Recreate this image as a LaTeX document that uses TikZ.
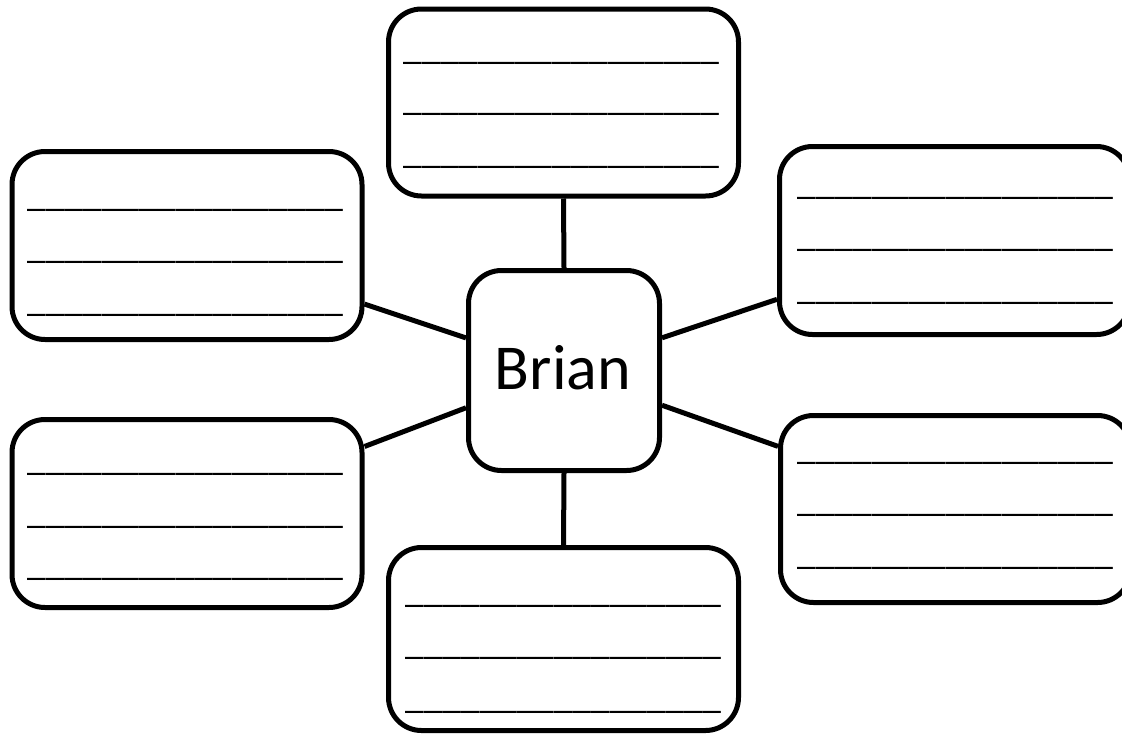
\documentclass[tikz,border=0pt]{standalone}
\usepackage{fontspec}
\setmainfont{Carlito}
\newcommand\blankline{\_\_\_\_\_\_\_\_\_\_\_\_\_\_\_\_\_}
\begin{document}
\begin{tikzpicture}[x=1pt,y=-1pt,
  box/.style={draw=black, line width=5pt, rounded corners=33pt, fill=white,
    inner sep=0pt, minimum width=350pt, minimum height=187pt},
  hub/.style={draw=black, line width=5pt, rounded corners=33pt, fill=white,
    inner sep=0pt, minimum width=191pt, minimum height=200pt,
    font=\fontsize{64}{70}\selectfont},
  link/.style={line width=5pt, draw=black},
  blank/.style={anchor=base west, inner sep=0pt, text height=0pt, text depth=0pt,
    font=\fontsize{37.3}{40}\selectfont}
]
\useasboundingbox (0,0) rectangle (1122,734);
\clip (0,0) rectangle (1122,734);
\fill[white] (0,0) rectangle (1122,734);

\coordinate (cc) at (564,370.5);
\coordinate (tc) at (563.5,102.5);
\coordinate (tlc) at (187,245.5);
\coordinate (trc) at (954.5,240.5);
\coordinate (blc) at (187,513.5);
\coordinate (brc) at (955.5,509);
\coordinate (bc) at (563.5,639);

\node[box] (T)  at (tc)  {};
\node[box, minimum height=188pt] (TL) at (tlc) {};
\node[box, minimum height=188pt] (TR) at (trc) {};
\node[box, minimum height=188pt] (BL) at (blc) {};
\node[box] (BR) at (brc) {};
\node[box, minimum height=183pt] (B)  at (bc)  {};
\node[hub] (C) at (cc) {};

\draw[link] (C) -- (TL);
\draw[link] (C) -- (BL);
\draw[link] (C) -- (TR);
\draw[link] (C) -- (BR);
\draw[link] (C.north) -- (T.south);
\draw[link] (C.south) -- (B.north);

\node[anchor=base, inner sep=0pt, font=\fontsize{64}{70}\selectfont] (name) at (563,389) {Brian};

% blank answer lines
\node[blank] (t1) at (403,59) {\blankline};
\node[blank] (t2) at (403,110) {\blankline};
\node[blank] (t3) at (403,163) {\blankline};

\node[blank] (tl1) at (27,206) {\blankline};
\node[blank] (tl2) at (27,258) {\blankline};
\node[blank] (tl3) at (27,311) {\blankline};

\node[blank] (tr1) at (797,194) {\blankline};
\node[blank] (tr2) at (797,246) {\blankline};
\node[blank] (tr3) at (797,299) {\blankline};

\node[blank] (bl1) at (27,470) {\blankline};
\node[blank] (bl2) at (27,523) {\blankline};
\node[blank] (bl3) at (27,575) {\blankline};

\node[blank] (br1) at (797,459) {\blankline};
\node[blank] (br2) at (797,511) {\blankline};
\node[blank] (br3) at (797,564) {\blankline};

\node[blank] (b1) at (405,602) {\blankline};
\node[blank] (b2) at (405,654) {\blankline};
\node[blank] (b3) at (405,708) {\blankline};
\end{tikzpicture}
\end{document}
